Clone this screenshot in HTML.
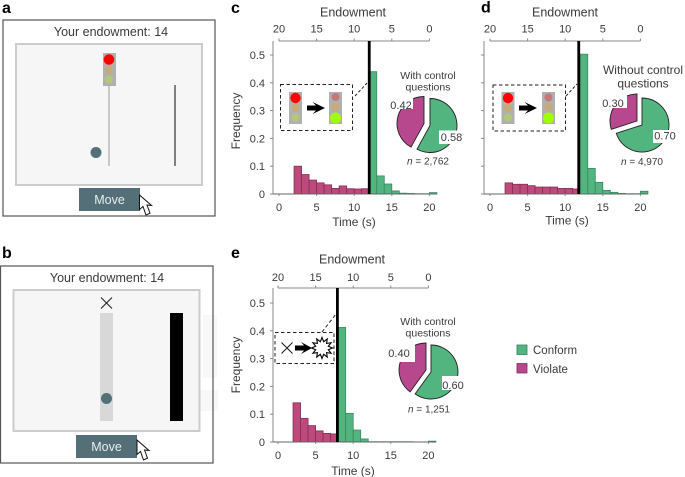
<!DOCTYPE html>
<html lang="en">
<head>
<meta charset="utf-8">
<title>Endowment experiment figure</title>
<style>
html,body{margin:0;padding:0;background:#fff;}
svg{display:block;font-family:"Liberation Sans",Arial,sans-serif;}
text{fill:#3a3a3a;}
.plabel{font-weight:bold;font-size:16px;fill:#000;}
</style>
</head>
<body>
<svg id="figure" width="685" height="477" viewBox="0 0 685 477" xmlns="http://www.w3.org/2000/svg">
  <defs>
    <g id="cursor-shape"><polygon points="139.5,195 139.5,209.5 143,206.5 146,215 150,213.2 147,205 151.5,205.5" fill="#fff" stroke="#111" stroke-width="1"/></g>
  </defs>

  <!-- Panel a -->
  <g>
    <text class="plabel" x="2" y="13">a</text>
    <rect x="3" y="20" width="212" height="196" fill="#fff" stroke="#555" stroke-width="1.2"/>
    <text x="111" y="36" font-size="12.5" text-anchor="middle">Your endowment: 14</text>
    <rect x="16" y="44" width="186" height="141" fill="#f6f6f6" stroke="#ccc" stroke-width="2"/>
    <line x1="109" y1="86" x2="109" y2="166" stroke="#c8c8c8" stroke-width="2"/>
    <rect x="103" y="53" width="13" height="33" fill="#b0b0b0"/>
    <circle cx="109" cy="59.5" r="5.3" fill="#ff0000"/>
    <circle cx="109" cy="69.5" r="4" fill="#c8aa78"/>
    <circle cx="109" cy="79.5" r="4" fill="#b2c878"/>
    <circle cx="96" cy="152.5" r="5.5" fill="#546f78"/>
    <line x1="175" y1="85" x2="175" y2="166" stroke="#808080" stroke-width="2"/>
    <rect x="79" y="188" width="61" height="23" fill="#546f78"/>
    <text x="109.5" y="204" font-size="12.5" text-anchor="middle" style="fill:#e8eeee">Move</text>
    <use href="#cursor-shape"/>
  </g>

  <!-- Panel b -->
  <g>
    <text class="plabel" x="2" y="258">b</text>
    <rect x="203" y="315" width="14" height="63" fill="#f8f8f8"/>
    <rect x="200" y="390" width="18" height="21" fill="#f8f8f8"/>
    <rect x="0.5" y="266" width="212.5" height="197" fill="none" stroke="#555" stroke-width="1.2"/>
    <text x="107" y="282" font-size="12.5" text-anchor="middle">Your endowment: 14</text>
    <rect x="13.5" y="290" width="186" height="141" fill="#f6f6f6" stroke="#ccc" stroke-width="2"/>
    <path d="M101,297.5 L112,308.5 M112,297.5 L101,308.5" stroke="#222" stroke-width="1.1" fill="none"/>
    <rect x="100" y="313" width="13" height="108" fill="#d8d8d8"/>
    <rect x="170" y="313" width="13" height="108" fill="#000"/>
    <circle cx="106.5" cy="398.5" r="5.5" fill="#546f78"/>
    <rect x="76" y="435" width="61" height="23" fill="#546f78"/>
    <text x="106.5" y="451" font-size="12.5" text-anchor="middle" style="fill:#e8eeee">Move</text>
    <use href="#cursor-shape" transform="translate(-2.5,245)"/>
  </g>

  <!-- Chart layers filled by script -->
  <g id="chart-c">
    <text class="plabel" x="231" y="13">c</text>
    <text x="353" y="16.5" font-size="12.5" text-anchor="middle">Endowment</text>
    <text x="354" y="226" font-size="12" text-anchor="middle">Time (s)</text>
    <text transform="translate(240,121) rotate(-90)" font-size="12" text-anchor="middle">Frequency</text>
    <text x="428" y="79" font-size="10.5" text-anchor="middle">With control</text>
    <text x="428" y="90.5" font-size="10.5" text-anchor="middle">questions</text>
    <text x="428" y="164.5" font-size="10" text-anchor="middle"><tspan font-style="italic">n</tspan> = 2,762</text>
  </g>
  <g id="chart-d">
    <text class="plabel" x="481" y="12.5">d</text>
    <text x="565" y="16.5" font-size="12.5" text-anchor="middle">Endowment</text>
    <text x="567" y="224.5" font-size="12" text-anchor="middle">Time (s)</text>
    <text x="643" y="74" font-size="12" text-anchor="middle">Without control</text>
    <text x="643" y="87.5" font-size="12" text-anchor="middle">questions</text>
    <text x="642" y="165" font-size="10" text-anchor="middle"><tspan font-style="italic">n</tspan> = 4,970</text>
  </g>
  <g id="chart-e">
    <text class="plabel" x="231" y="258">e</text>
    <text x="352" y="263.5" font-size="12.5" text-anchor="middle">Endowment</text>
    <text x="353" y="475" font-size="12" text-anchor="middle">Time (s)</text>
    <text transform="translate(240,365) rotate(-90)" font-size="12" text-anchor="middle">Frequency</text>
    <text x="428" y="325" font-size="10.5" text-anchor="middle">With control</text>
    <text x="428" y="336.5" font-size="10.5" text-anchor="middle">questions</text>
    <text x="429" y="412.5" font-size="10" text-anchor="middle"><tspan font-style="italic">n</tspan> = 1,251</text>
  </g>

  <!-- Inset c -->
  <g>
    <rect x="280.5" y="84.5" width="72" height="46" fill="#fff" stroke="#222" stroke-width="1" stroke-dasharray="3.5 2.5"/>
    <line x1="355" y1="96" x2="367" y2="83" stroke="#222" stroke-width="1" stroke-dasharray="3 2"/>
    <rect x="289" y="92" width="13" height="32" fill="#b0b0b0"/>
    <circle cx="295.5" cy="98" r="5.2" fill="#ff0000"/>
    <circle cx="295.5" cy="108" r="4" fill="#c8aa78"/>
    <circle cx="295.5" cy="117.5" r="4" fill="#b2c878"/>
    <polygon points="307,105.5 316,105.5 312.5,102 325,108 312.5,114 316,110.5 307,110.5" fill="#000"/>
    <rect x="329" y="92" width="13" height="32" fill="#b0b0b0"/>
    <circle cx="335.5" cy="97" r="4" fill="#c87878"/>
    <circle cx="335.5" cy="107" r="4" fill="#c8aa78"/>
    <circle cx="335.5" cy="118" r="5.5" fill="#a0ff00"/>
  </g>

  <!-- Inset d -->
  <g>
    <rect x="493" y="85" width="72.5" height="46" fill="#fff" stroke="#222" stroke-width="1" stroke-dasharray="3.5 2.5"/>
    <line x1="566" y1="96" x2="577" y2="84" stroke="#222" stroke-width="1" stroke-dasharray="3 2"/>
    <rect x="501.5" y="92" width="13" height="32" fill="#b0b0b0"/>
    <circle cx="508" cy="98" r="5.2" fill="#ff0000"/>
    <circle cx="508" cy="108" r="4" fill="#c8aa78"/>
    <circle cx="508" cy="117.5" r="4" fill="#b2c878"/>
    <polygon points="519,105.5 528,105.5 524.5,102 537,108 524.5,114 528,110.5 519,110.5" fill="#000"/>
    <rect x="542" y="92" width="13" height="32" fill="#b0b0b0"/>
    <circle cx="548.5" cy="97.5" r="4" fill="#c87878"/>
    <circle cx="548.5" cy="107" r="4" fill="#c8aa78"/>
    <circle cx="548.5" cy="118" r="5.5" fill="#a0ff00"/>
  </g>

  <!-- Inset e -->
  <g>
    <rect x="275" y="332.5" width="59" height="31" fill="#fff" stroke="#222" stroke-width="1" stroke-dasharray="3.5 2.5"/>
    <line x1="322" y1="332" x2="336" y2="314" stroke="#222" stroke-width="1" stroke-dasharray="3.5 2.5"/>
    <path d="M281.5,342.5 L292.5,353.5 M292.5,342.5 L281.5,353.5" stroke="#222" stroke-width="1.1" fill="none"/>
    <polygon points="295,345.5 304,345.5 301,342 312,348 301,354 304,350.5 295,350.5" fill="#000"/>
    <polygon transform="translate(322,348)" points="10.5,0 6.28,1.68 9.1,5.25 4.6,4.6 5.25,9.1 1.68,6.28 0,10.5 -1.68,6.28 -5.25,9.1 -4.6,4.6 -9.1,5.25 -6.28,1.68 -10.5,0 -6.28,-1.68 -9.1,-5.25 -4.6,-4.6 -5.25,-9.1 -1.68,-6.28 0,-10.5 1.68,-6.28 5.25,-9.1 4.6,-4.6 9.1,-5.25 6.28,-1.68" fill="#fff" stroke="#000" stroke-width="1.1"/>
  </g>

  <!-- Legend -->
  <g>
    <rect x="517" y="345" width="10" height="9.5" fill="#52b47e" stroke="#3b7f5e" stroke-width="0.8"/>
    <text x="533" y="354" font-size="11.5">Conform</text>
    <rect x="517" y="363.5" width="10" height="9.5" fill="#b8488e" stroke="#7d3064" stroke-width="0.8"/>
    <text x="533" y="373" font-size="11.5">Violate</text>
  </g>
</svg>

<script>
// Shared axis data
var binStarts = [2,3,4,5,6,7,8,9,10,11,12,13,14,15,16,17,18,19,20];
var timeTicks = [0,5,10,15,20];
var endowmentTicks = [20,15,10,5,0];
var freqTicks = [0,0.1,0.2,0.3,0.4,0.5];

// Panel c
var freqC = [0.100,0.070,0.050,0.040,0.033,0.020,0.029,0.019,0.018,0.019,0.440,0.065,0.036,0.011,0.003,0.002,0.001,0.001,0.005];
var thresholdC = 12;
var conformC = 0.58;
var violateC = 0.42;

// Panel d
var freqD = [0.040,0.035,0.035,0.030,0.025,0.025,0.025,0.020,0.020,0.018,0.503,0.092,0.042,0.013,0.006,0.002,0.001,0.001,0.010];
var thresholdD = 11.8;
var conformD = 0.70;
var violateD = 0.30;

// Panel e
var freqE = [0.141,0.085,0.059,0.040,0.031,0.029,0.412,0.103,0.043,0.011,0.001,0.001,0.001,0.001,0.001,0.001,0,0,0.003];
var thresholdE = 7.9;
var conformE = 0.60;
var violateE = 0.40;

var NS = 'http://www.w3.org/2000/svg';

function el(parent, tag, attrs, name) {
  var n = document.createElementNS(NS, tag);
  for (var k in attrs) n.setAttribute(k, attrs[k]);
  
  
  parent.appendChild(n);
  return n;
}

function label(parent, x, y, str, anchor, size, name) {
  var t = el(parent, 'text', {x:x, y:y, 'text-anchor':anchor, 'font-size':size}, name);
  t.textContent = str;
  return t;
}

function wedge(cx, cy, r, fromShare, toShare) {
  var a0 = fromShare * 2 * Math.PI, a1 = toShare * 2 * Math.PI;
  var large = (toShare - fromShare) > 0.5 ? 1 : 0;
  return 'M' + cx + ',' + cy +
    ' L' + (cx + r * Math.sin(a0)) + ',' + (cy - r * Math.cos(a0)) +
    ' A' + r + ',' + r + ' 0 ' + large + ' 1 ' + (cx + r * Math.sin(a1)) + ',' + (cy - r * Math.cos(a1)) + ' Z';
}

function drawChart(o) {
  var g = document.getElementById(o.id);
  var layer = document.createElementNS(NS, 'g');
  
  
  g.insertBefore(layer, g.firstChild);

  var sx = function (t) { return o.x0 + t * 7.52; };
  var sy = function (f) { return o.y0 - f * 278; };
  var axisColor = '#8a8a8a';

  // Bars
  binStarts.forEach(function (start, i) {
    var v = o.values[i];
    if (v <= 0) return;
    var isConform = start >= o.splitBin;
    el(layer, 'rect', {
      x: sx(start), y: sy(v), width: 7.52, height: sy(0) - sy(v),
      fill: isConform ? '#52b47e' : '#bd4a7c',
      stroke: isConform ? '#3a8a5e' : '#85304f',
      'stroke-width': 0.8
    }, (isConform ? 'conform-bar-' : 'violate-bar-') + o.tag + '-' + start);
  });

  // Axes
  el(layer, 'line', {x1:o.axisX, y1:o.topY, x2:o.axisX, y2:sy(0), stroke:axisColor, 'stroke-width':1}, 'y-axis-' + o.tag);
  el(layer, 'line', {x1:o.axisX, y1:sy(0), x2:sx(21), y2:sy(0), stroke:'#666', 'stroke-width':1}, 'x-axis-' + o.tag);
  el(layer, 'line', {x1:sx(0), y1:o.topY, x2:sx(20), y2:o.topY, stroke:axisColor, 'stroke-width':1}, 'top-axis-' + o.tag);

  freqTicks.forEach(function (f) {
    el(layer, 'line', {x1:o.axisX - 3, y1:sy(f), x2:o.axisX, y2:sy(f), stroke:axisColor, 'stroke-width':1}, 'y-tick-' + o.tag);
    if (o.showY) label(layer, o.axisX - 8, sy(f) + 4, String(f), 'end', 11, 'y-tick-label-' + o.tag);
  });
  timeTicks.forEach(function (t) {
    el(layer, 'line', {x1:sx(t), y1:sy(0), x2:sx(t), y2:sy(0) + 2, stroke:axisColor, 'stroke-width':1}, 'x-tick-' + o.tag);
    label(layer, sx(t), sy(0) + 17, String(t), 'middle', 11, 'x-tick-label-' + o.tag);
  });
  endowmentTicks.forEach(function (e) {
    var x = sx(20 - e);
    el(layer, 'line', {x1:x, y1:o.topY - 2.5, x2:x, y2:o.topY, stroke:axisColor, 'stroke-width':1}, 'top-tick-' + o.tag);
    label(layer, x, o.topLabelY, String(e), 'middle', 11, 'top-tick-label-' + o.tag);
  });

  // Threshold
  el(layer, 'line', {x1:sx(o.threshold), y1:o.topY, x2:sx(o.threshold), y2:sy(0), stroke:'#000', 'stroke-width':2.8}, 'threshold-line-' + o.tag);

  // Pie
  var pieStroke = '#222';
  el(layer, 'path', {d:wedge(o.pie.cx, o.pie.cy, 27, 0, o.conform), fill:'#52b47e', stroke:pieStroke, 'stroke-width':0.9}, 'pie-slice-conform-' + o.tag);
  el(layer, 'path', {d:wedge(o.pie.vx, o.pie.vy, 27, o.conform, o.conform + o.violate), fill:'#b8488e', stroke:pieStroke, 'stroke-width':0.9}, 'pie-slice-violate-' + o.tag);

  // White label backings clip the pie slightly, as in the figure
  var a = o.pie.violateBox, b = o.pie.conformBox;
  el(layer, 'rect', {x:a[0], y:a[1], width:a[2], height:a[3], fill:'#fff'}, 'pie-label-backing-violate-' + o.tag);
  el(layer, 'rect', {x:b[0], y:b[1], width:b[2], height:b[3], fill:'#fff'}, 'pie-label-backing-conform-' + o.tag);
  label(layer, o.pie.violateLabel[0], o.pie.violateLabel[1], o.violate.toFixed(2), 'middle', 11, 'pie-label-violate-' + o.tag);
  label(layer, o.pie.conformLabel[0], o.pie.conformLabel[1], o.conform.toFixed(2), 'middle', 11, 'pie-label-conform-' + o.tag);
}

drawChart({
  id:'chart-c', tag:'c', x0:279, y0:194, axisX:273, topY:41, topLabelY:32.5, showY:true, splitBin:12,
  values:freqC, threshold:thresholdC, conform:conformC, violate:violateC,
  pie:{cx:430, cy:125.5, vx:424, vy:123.5, violateBox:[389,95,24,14], violateLabel:[401,109], conformBox:[439,130.5,24,13.5], conformLabel:[451.5,141]}
});
drawChart({
  id:'chart-d', tag:'d', x0:490, y0:194, axisX:484, topY:41, topLabelY:32.5, showY:false, splitBin:12,
  values:freqD, threshold:thresholdD, conform:conformD, violate:violateD,
  pie:{cx:642, cy:125, vx:637, vy:121, violateBox:[602,95,25,13], violateLabel:[613,107], conformBox:[653,130,24,13], conformLabel:[665,139.5]}
});
drawChart({
  id:'chart-e', tag:'e', x0:278, y0:442, axisX:273, topY:288, topLabelY:281, showY:true, splitBin:8,
  values:freqE, threshold:thresholdE, conform:conformE, violate:violateE,
  pie:{cx:431, cy:372, vx:426, vy:370, violateBox:[387,344,28,18], violateLabel:[399,357], conformBox:[442,376,22,14], conformLabel:[453,389]}
});
</script>
</body>
</html>
